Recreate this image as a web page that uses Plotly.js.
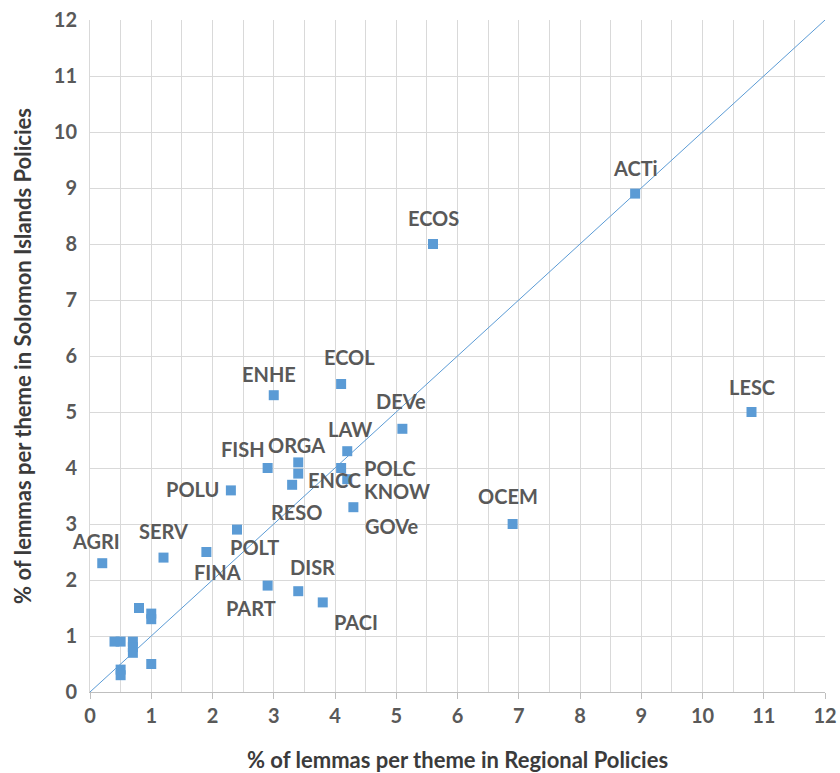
<!DOCTYPE html>
<html>
<head>
<meta charset="utf-8">
<script src="https://cdn.plot.ly/plotly-3.0.1.min.js"></script>
<style>html,body{margin:0;padding:0;background:#fff;}#chart{width:840px;height:773px;}</style>
</head>
<body>
<div id="chart"></div>
<script>
// Labelled themes
const themes = ["ACTi","ECOS","LESC","OCEM","ECOL","ENHE","DEVe","LAW","POLC","KNOW","GOVe","ORGA","FISH","ENCC","RESO","POLU","SERV","AGRI","FINA","POLT","PART","DISR","PACI"];
const regional = [8.9,5.6,10.8,6.9,4.1,3.0,5.1,4.2,4.1,4.2,4.3,3.4,2.9,3.4,3.3,2.3,1.2,0.2,1.9,2.4,2.9,3.4,3.8];
const solomon  = [8.9,8.0,5.0,3.0,5.5,5.3,4.7,4.3,4.0,3.8,3.3,4.1,4.0,3.9,3.7,3.6,2.4,2.3,2.5,2.9,1.9,1.8,1.6];
// Unlabelled themes (lower-left cluster)
const regionalOther = [0.8,1.0,1.0,0.4,0.5,0.7,0.7,0.7,1.0,0.5,0.5];
const solomonOther  = [1.5,1.4,1.3,0.9,0.9,0.9,0.8,0.7,0.5,0.4,0.3];
// Equality line
const lineX = [0,12];
const lineY = [0,12];
const axisTicks = [0,1,2,3,4,5,6,7,8,9,10,11,12];

// label offsets in pixels (right, up) — layout only
const labelShift = {
  ACTi:[0,26], ECOS:[0,26], LESC:[0,25], OCEM:[-5,28], ECOL:[8,27], ENHE:[-5,21],
  DEVe:[-1,28], LAW:[3,22], POLC:[49,0], KNOW:[50,-12], GOVe:[39,-19], ORGA:[-2,17],
  FISH:[-25,19], ENCC:[36,-6], RESO:[5,-27], POLU:[-38,1], SERV:[0,27], AGRI:[-6,22],
  FINA:[11,-20], POLT:[17,-17], PART:[-17,-22], DISR:[14,24], PACI:[33,-20]
};

const blue = '#5B9BD5';
const gray = '#595959';
const dark = '#3b3b3b';
const font = 'Lato, "Open Sans", sans-serif';

const traces = [
  {x: lineX, y: lineY, mode: 'lines', line: {color: blue, width: 1}, hoverinfo: 'skip', showlegend: false},
  {x: regionalOther, y: solomonOther, mode: 'markers', marker: {symbol: 'square', size: 10, color: blue}, showlegend: false},
  {x: regional, y: solomon, text: themes, mode: 'markers', marker: {symbol: 'square', size: 10, color: blue}, showlegend: false}
];

const annotations = themes.map((t, i) => ({
  x: regional[i], y: solomon[i], text: t, showarrow: false,
  xshift: labelShift[t][0], yshift: labelShift[t][1],
  font: {family: font, size: 20, color: gray, weight: 'bold'}
}));

const layout = {
  width: 840, height: 773,
  margin: {l: 90, r: 15, t: 20, b: 81},
  paper_bgcolor: '#fff', plot_bgcolor: '#fff',
  showlegend: false,
  font: {family: font, color: gray},
  xaxis: {
    range: [0, 12], tickvals: axisTicks, ticktext: axisTicks.map(String),
    showgrid: true, gridcolor: '#d9d9d9', gridwidth: 1,
    minor: {dtick: 0.5, showgrid: true, gridcolor: '#d9d9d9', gridwidth: 1},
    zeroline: false, showline: true, linecolor: '#bfbfbf', linewidth: 1,
    ticks: 'outside', ticklen: 6, tickcolor: '#bfbfbf',
    tickfont: {family: font, size: 20, color: gray, weight: 'bold'},
    title: {text: '% of lemmas per theme in Regional Policies', font: {family: font, size: 22, color: dark, weight: 'bold'}, standoff: 27},
    fixedrange: true
  },
  yaxis: {
    range: [0, 12], tickvals: axisTicks, ticktext: axisTicks.map(String),
    showgrid: true, gridcolor: '#d9d9d9', gridwidth: 1,
    zeroline: false, showline: true, linecolor: '#d9d9d9', linewidth: 1,
    ticks: '', ticklabelstandoff: 8,
    tickfont: {family: font, size: 20, color: gray, weight: 'bold'},
    title: {text: '% of lemmas per theme in Solomon Islands Policies', font: {family: font, size: 22, color: dark, weight: 'bold'}, standoff: 16},
    fixedrange: true
  },
  annotations: annotations
};

Plotly.newPlot('chart', traces, layout, {displayModeBar: false, staticPlot: true});
</script>
</body>
</html>
